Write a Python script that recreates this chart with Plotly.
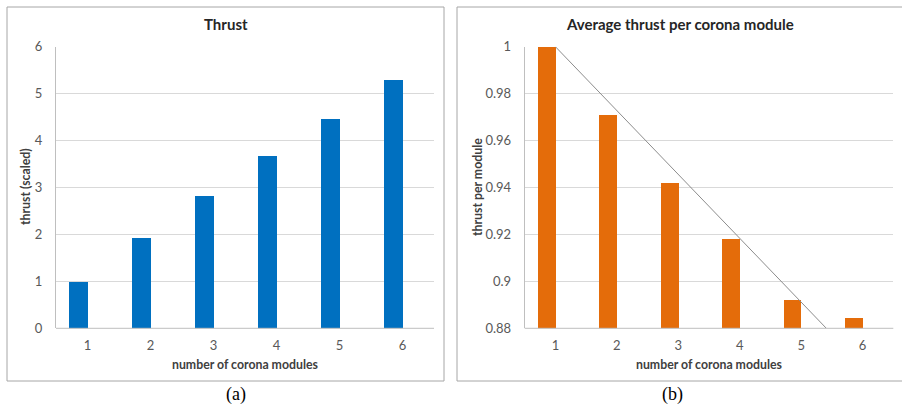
import plotly.graph_objects as go

# ---- data ----
modules = [1, 2, 3, 4, 5, 6]
thrust_scaled = [1.0, 1.94, 2.82, 3.68, 4.47, 5.30]
thrust_per_module = [1.0, 0.9712, 0.9422, 0.9183, 0.8922, 0.8847]
trend_x = [1.0, 5.41]
trend_y = [1.0, 0.88]
left_yticks = [0, 1, 2, 3, 4, 5, 6]
right_yticks = [0.88, 0.9, 0.92, 0.94, 0.96, 0.98, 1.0]
right_yticklabels = ["0.88", "0.9", "0.92", "0.94", "0.96", "0.98", "1"]

W, H = 902, 404
def fx(px):
    return px / W
def fy(py):
    return 1 - py / H

FONT = "Lato"
TICKC = "#595959"
GRID = "#d9d9d9"
AXC = "#bfbfbf"

fig = go.Figure()

fig.add_trace(go.Bar(x=modules, y=thrust_scaled, xaxis="x", yaxis="y",
                     marker=dict(color="#0070c0", line=dict(width=0)),
                     width=0.29, offset=-0.29, showlegend=False))
fig.add_trace(go.Bar(x=modules, y=thrust_per_module, xaxis="x2", yaxis="y2",
                     marker=dict(color="#e46c0a", line=dict(width=0)),
                     width=0.29, offset=-0.29, showlegend=False))
fig.add_trace(go.Scatter(x=trend_x, y=trend_y, xaxis="x2", yaxis="y2", mode="lines",
                         line=dict(color="#8c8c8c", width=1), showlegend=False,
                         cliponaxis=False))

xcommon = dict(range=[0.5, 6.5], tickmode="array", tickvals=modules, showgrid=False,
               zeroline=False, showline=False, ticks="", automargin=False,
               tickfont=dict(family=FONT, size=13, color=TICKC), ticklabelstandoff=8)
ycommon = dict(showgrid=True, gridcolor=GRID, gridwidth=1, zeroline=False,
               showline=True, linecolor=AXC, linewidth=1, ticks="", automargin=False,
               tickfont=dict(family=FONT, size=13, color=TICKC))

fig.update_layout(
    template="none",
    width=W, height=H, margin=dict(l=0, r=0, t=0, b=0, pad=0), autosize=False,
    paper_bgcolor="white", plot_bgcolor="white", bargap=0,
    xaxis=dict(domain=[fx(56), fx(434)], anchor="y", **xcommon),
    yaxis=dict(domain=[fy(328.3), fy(46.7)], anchor="x", range=[0, 6],
               tickvals=left_yticks, ticklabelstandoff=10, **ycommon),
    xaxis2=dict(domain=[fx(524.7), fx(893.3)], anchor="y2", **xcommon),
    yaxis2=dict(domain=[fy(328.3), fy(46.7)], anchor="x2", range=[0.88, 1.0],
                tickmode="array", tickvals=right_yticks, ticktext=right_yticklabels,
                ticklabelstandoff=10, **ycommon),
)

# frames
fig.add_shape(type="rect", xref="paper", yref="paper",
              x0=fx(7), x1=fx(444), y0=fy(381), y1=fy(7),
              line=dict(color="#a6a6a6", width=1), layer="below")
fig.add_shape(type="rect", xref="paper", yref="paper",
              x0=fx(457), x1=fx(905), y0=fy(381), y1=fy(7),
              line=dict(color="#a6a6a6", width=1), layer="below")
# bottom axis lines
for xr, yr in (("x", "y"), ("x2", "y2")):
    fig.add_shape(type="line", xref=xr + " domain", yref=yr + " domain",
                  x0=0, x1=1, y0=0, y1=0, line=dict(color=AXC, width=1))

def ann(text, x, y, size, bold=True, color="#262626", angle=0, family=FONT):
    fig.add_annotation(text=("<b>%s</b>" % text) if bold else text,
                       x=fx(x), y=fy(y), xref="paper", yref="paper",
                       showarrow=False, textangle=angle, xanchor="center", yanchor="middle",
                       font=dict(family=family, size=size, color=color))

ann("Thrust", 226, 24, 15)
ann("Average thrust per corona module", 680, 24, 15)
ann("number of corona modules", 245, 364, 12.3, color="#404040")
ann("number of corona modules", 709, 364, 12.3, color="#404040")
ann("thrust (scaled)", 25, 187, 12.3, color="#404040", angle=-90)
ann("thrust per module", 477, 187, 12.3, color="#404040", angle=-90)
ann("(a)", 236, 394, 18, bold=False, color="black", family="Liberation Serif")
ann("(b)", 672, 394, 18, bold=False, color="black", family="Liberation Serif")

fig.write_html("out.html", config={"displayModeBar": False},
               post_script="document.body.style.margin='0';document.body.style.overflow='hidden';")
